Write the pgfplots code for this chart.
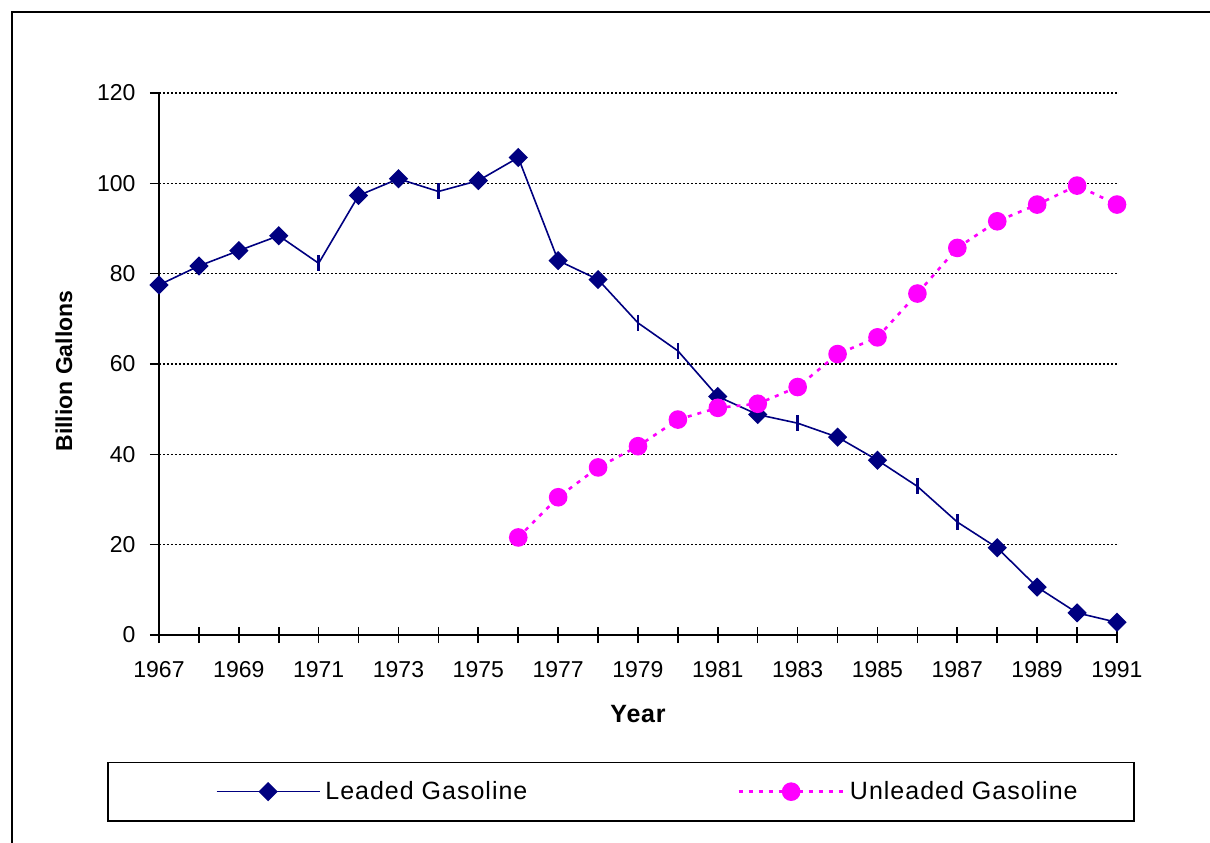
\documentclass[border=0pt]{standalone}
\usepackage{fontspec}
\setmainfont{Liberation Sans}
\usepackage{pgfplots}
\usepackage{pgfplotstable}
\pgfplotsset{compat=1.18}
\definecolor{navy}{RGB}{0,0,128}
\definecolor{mag}{RGB}{255,0,255}
\pgfplotsset{
  legleaded/.style={legend image code/.code={\draw[##1, mark indices={2}] plot coordinates {(0pt,0pt) (25.75pt,0pt) (51.5pt,0pt)};}},
  legunleaded/.style={legend image code/.code={\draw[##1, mark indices={2}] plot coordinates {(0pt,0pt) (26.25pt,0pt) (52.5pt,0pt)};}},
}
\pgfplotstableread{
year val
1967 77.5
1968 81.7
1969 85.1
1970 88.4
1971 82.3
1972 97.3
1973 101.0
1974 98.2
1975 100.6
1976 105.7
1977 82.9
1978 78.7
1979 69.1
1980 62.9
1981 52.8
1982 48.8
1983 46.9
1984 43.8
1985 38.7
1986 32.9
1987 25.0
1988 19.3
1989 10.6
1990 4.9
1991 2.8
}\leaded
\pgfplotstableread{
year val
1976 21.6
1977 30.5
1978 37.1
1979 41.8
1980 47.7
1981 50.3
1982 51.2
1983 54.9
1984 62.2
1985 65.9
1986 75.6
1987 85.7
1988 91.6
1989 95.3
1990 99.5
1991 95.3
}\unleaded
\begin{document}
\begin{tikzpicture}
\path[use as bounding box] (-79.5pt,-103.5pt) rectangle (525.5pt,317.5pt);
\draw[line width=0.8pt] (-73.5pt,-104pt) -- (-73.5pt,311.5pt) -- (526pt,311.5pt);
\begin{axis}[
  width=479pt, height=271pt, scale only axis,
  xmin=1967, xmax=1991, ymin=0, ymax=120,
  clip=false,
  axis lines=left,
  axis line style={-, line width=0.8pt, black},
  xtick={1967,...,1991},
  xticklabels={1967,,1969,,1971,,1973,,1975,,1977,,1979,,1981,,1983,,1985,,1987,,1989,,1991},
  xtick align=center,
  major tick length=8pt,
  tick style={black, line width=0.8pt},
  ytick=\empty,
  extra y ticks={0,20,40,60,80,100,120},
  extra y tick style={major tick length=4.5pt, tick align=outside, grid=major},
  grid style={black, line width=0.6pt, dash pattern=on 1pt off 1pt},
  tick label style={font=\fontsize{11.5}{13}\selectfont},
  /pgf/number format/assume math mode=true,
  x tick label style={yshift=-5.7pt},
  y tick label style={xshift=-3.7pt},
  xlabel={\addfontfeature{LetterSpace=3}Year},
  x label style={at={(axis description cs:0.5,-0.1458)}, anchor=center, font=\fontsize{12.5}{14}\selectfont\bfseries},
  ylabel={Billion Gallons},
  y label style={at={(axis description cs:-0.0992,0.487)}, anchor=center, font=\fontsize{11.5}{13}\selectfont\bfseries},
  legend columns=2,
  legend cell align=left,
  legend style={at={(axis description cs:-0.0543,-0.2334)}, anchor=north west,
    draw=black, line width=0.8pt, inner xsep=54pt, inner ysep=9.4pt,
    column sep=0pt, row sep=0pt,
    font=\fontsize{12.5}{14}\selectfont\addfontfeature{LetterSpace=4},
    nodes={inner sep=0pt},
    /tikz/every odd column/.append style={column sep=2.5pt}},
]
\addplot[navy, line width=0.8pt, mark=square*, mark size=3pt,
  mark options={rotate=45, solid, fill=navy, draw=navy},
  mark indices={1,2,3,4,6,7,9,10,11,12,15,16,18,19,22,23,24,25},
  legleaded]
  table[x=year, y=val] {\leaded};
\addlegendentry{\makebox[206pt][l]{Leaded Gasoline}}
\addplot[forget plot, only marks, navy, mark=|, mark size=4pt,
  mark options={line width=1.2pt},
  mark indices={5,8,13,14,17,20,21}]
  table[x=year, y=val] {\leaded};
\addplot[mag, line width=1.3pt, dash pattern=on 2pt off 3pt, mark=*, mark size=4pt,
  mark options={solid, fill=mag, draw=mag},
  legunleaded]
  table[x=year, y=val] {\unleaded};
\addlegendentry{\makebox[88pt][l]{Unleaded Gasoline}}
\end{axis}
\end{tikzpicture}
\end{document}
